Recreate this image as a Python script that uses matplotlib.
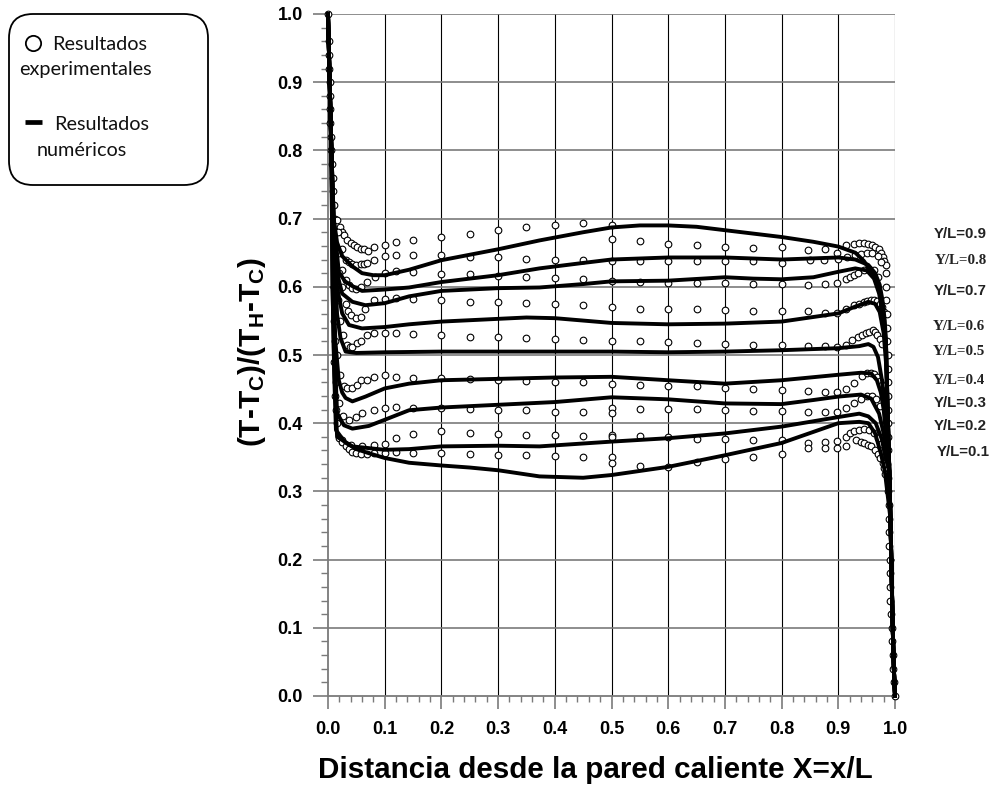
import matplotlib
matplotlib.use("Agg")
import matplotlib.pyplot as plt
from matplotlib.patches import FancyBboxPatch
from matplotlib.ticker import MultipleLocator

plt.rcParams['mathtext.fontset'] = 'custom'
plt.rcParams['mathtext.rm'] = 'Liberation Sans:bold'
plt.rcParams['mathtext.bf'] = 'Liberation Sans:bold'
plt.rcParams['mathtext.it'] = 'Liberation Sans:bold'

# ---------------- data ----------------
labels = ["Y/L=0.9", "Y/L=0.8", "Y/L=0.7", "Y/L=0.6", "Y/L=0.5",
          "Y/L=0.4", "Y/L=0.3", "Y/L=0.2", "Y/L=0.1"]

# numerical results: common start at hot wall, per-curve body, common tail at cold wall
num_head_x = [0.0, 0.003, 0.006]
num_head_y = [1.0, 0.90, 0.80]
num_tail_x = [0.984, 0.987, 0.990, 0.992, 0.994, 0.996, 0.998, 1.0]
num_tail_y = [0.52, 0.42, 0.33, 0.26, 0.18, 0.10, 0.04, 0.0]

num09_x = [0.010, 0.016, 0.025, 0.043, 0.06, 0.08, 0.1, 0.143, 0.2, 0.3, 0.373, 0.45, 0.5, 0.55, 0.6, 0.65, 0.7, 0.75, 0.8, 0.856, 0.9, 0.93, 0.945, 0.96, 0.97, 0.976, 0.98]
num09_y = [0.70, 0.665, 0.645, 0.630, 0.620, 0.617, 0.617, 0.625, 0.639, 0.655, 0.668, 0.680, 0.687, 0.690, 0.690, 0.688, 0.683, 0.678, 0.673, 0.666, 0.659, 0.650, 0.638, 0.620, 0.600, 0.580, 0.555]
num08_x = [0.010, 0.019, 0.03, 0.043, 0.06, 0.1, 0.143, 0.2, 0.3, 0.373, 0.45, 0.5, 0.6, 0.7, 0.8, 0.9, 0.93, 0.953, 0.965, 0.973, 0.978, 0.982]
num08_y = [0.70, 0.622, 0.608, 0.601, 0.594, 0.596, 0.599, 0.607, 0.617, 0.627, 0.635, 0.640, 0.643, 0.643, 0.640, 0.643, 0.640, 0.632, 0.620, 0.603, 0.580, 0.550]
num07_x = [0.010, 0.016, 0.025, 0.043, 0.066, 0.1, 0.143, 0.2, 0.3, 0.373, 0.45, 0.5, 0.6, 0.7, 0.75, 0.8, 0.856, 0.9, 0.93, 0.95, 0.963, 0.972, 0.978, 0.982]
num07_y = [0.70, 0.620, 0.590, 0.578, 0.573, 0.576, 0.586, 0.594, 0.598, 0.599, 0.604, 0.608, 0.609, 0.614, 0.612, 0.611, 0.614, 0.622, 0.627, 0.624, 0.612, 0.590, 0.560, 0.530]
num06_x = [0.010, 0.016, 0.025, 0.037, 0.06, 0.1, 0.143, 0.2, 0.3, 0.35, 0.4, 0.5, 0.6, 0.7, 0.8, 0.9, 0.93, 0.953, 0.965, 0.973, 0.98, 0.984]
num06_y = [0.68, 0.600, 0.561, 0.544, 0.539, 0.541, 0.545, 0.549, 0.553, 0.555, 0.554, 0.547, 0.545, 0.546, 0.549, 0.561, 0.571, 0.578, 0.575, 0.563, 0.532, 0.490]
num05_x = [0.010, 0.016, 0.022, 0.031, 0.05, 0.1, 0.2, 0.3, 0.4, 0.5, 0.6, 0.7, 0.8, 0.9, 0.937, 0.953, 0.962, 0.97, 0.977, 0.982]
num05_y = [0.66, 0.560, 0.525, 0.505, 0.503, 0.504, 0.505, 0.505, 0.505, 0.505, 0.504, 0.505, 0.507, 0.510, 0.513, 0.516, 0.512, 0.497, 0.463, 0.430]
num04_x = [0.009, 0.013, 0.019, 0.025, 0.031, 0.043, 0.066, 0.1, 0.143, 0.2, 0.3, 0.4, 0.5, 0.6, 0.7, 0.8, 0.9, 0.94, 0.958, 0.968, 0.975, 0.98]
num04_y = [0.62, 0.520, 0.463, 0.445, 0.437, 0.432, 0.439, 0.451, 0.458, 0.463, 0.465, 0.467, 0.468, 0.463, 0.458, 0.463, 0.471, 0.474, 0.473, 0.463, 0.445, 0.420]
num03_x = [0.009, 0.012, 0.016, 0.028, 0.043, 0.072, 0.1, 0.143, 0.2, 0.3, 0.4, 0.5, 0.6, 0.7, 0.8, 0.856, 0.9, 0.94, 0.958, 0.972, 0.98]
num03_y = [0.60, 0.500, 0.415, 0.397, 0.392, 0.396, 0.405, 0.419, 0.423, 0.427, 0.431, 0.438, 0.435, 0.429, 0.428, 0.434, 0.439, 0.442, 0.436, 0.414, 0.385]
num02_x = [0.008, 0.011, 0.016, 0.043, 0.1, 0.143, 0.2, 0.3, 0.373, 0.5, 0.6, 0.7, 0.8, 0.9, 0.937, 0.953, 0.966, 0.977, 0.983]
num02_y = [0.60, 0.480, 0.380, 0.366, 0.361, 0.362, 0.366, 0.367, 0.366, 0.373, 0.378, 0.385, 0.395, 0.409, 0.414, 0.410, 0.400, 0.376, 0.350]
num01_x = [0.008, 0.011, 0.014, 0.03, 0.05, 0.072, 0.1, 0.143, 0.2, 0.25, 0.3, 0.373, 0.45, 0.5, 0.6, 0.7, 0.8, 0.9, 0.937, 0.953, 0.965, 0.975, 0.982]
num01_y = [0.60, 0.470, 0.390, 0.372, 0.362, 0.356, 0.349, 0.342, 0.338, 0.335, 0.331, 0.322, 0.320, 0.324, 0.336, 0.353, 0.371, 0.400, 0.402, 0.400, 0.385, 0.356, 0.330]

# experimental results: shared points along both walls, per-series interior points
exp_wall_left_x = [0.0, 0.001, 0.002, 0.002, 0.003, 0.003, 0.004, 0.004, 0.005, 0.006, 0.007, 0.008, 0.009, 0.010, 0.012]
exp_wall_left_y = [1.0, 0.96, 0.94, 0.92, 0.90, 0.88, 0.86, 0.84, 0.82, 0.80, 0.78, 0.76, 0.74, 0.72, 0.70]
exp_wall_right_x = [0.984, 0.985, 0.985, 0.986, 0.986, 0.986, 0.987, 0.987, 0.987, 0.988, 0.988, 0.988, 0.988, 0.987, 0.986, 0.987, 0.988, 0.989, 0.989, 0.990, 0.990, 0.991, 0.991, 0.992, 0.992, 0.993, 0.994, 0.995, 0.996, 0.997, 0.998, 1.0]
exp_wall_right_y = [0.62, 0.60, 0.58, 0.56, 0.54, 0.52, 0.50, 0.48, 0.46, 0.44, 0.42, 0.40, 0.38, 0.36, 0.34, 0.32, 0.30, 0.28, 0.26, 0.24, 0.22, 0.20, 0.18, 0.16, 0.14, 0.12, 0.10, 0.08, 0.06, 0.04, 0.02, 0.0]

exp09_x = [0.016, 0.022, 0.025, 0.028, 0.034, 0.040, 0.046, 0.052, 0.058, 0.063, 0.071, 0.081, 0.1, 0.12, 0.15, 0.2, 0.25, 0.3, 0.35, 0.4, 0.45, 0.5, 0.5, 0.55, 0.6, 0.65, 0.7, 0.75, 0.8, 0.847, 0.877, 0.897, 0.913, 0.928, 0.937, 0.945, 0.953, 0.959, 0.965, 0.971, 0.975, 0.978, 0.981, 0.984]
exp09_y = [0.698, 0.688, 0.681, 0.676, 0.669, 0.664, 0.661, 0.659, 0.656, 0.655, 0.653, 0.659, 0.662, 0.665, 0.668, 0.673, 0.678, 0.684, 0.688, 0.690, 0.693, 0.691, 0.670, 0.667, 0.663, 0.661, 0.659, 0.657, 0.658, 0.654, 0.655, 0.649, 0.661, 0.663, 0.664, 0.664, 0.663, 0.661, 0.659, 0.655, 0.650, 0.644, 0.638, 0.632]
exp08_x = [0.018, 0.024, 0.031, 0.037, 0.043, 0.050, 0.058, 0.063, 0.069, 0.081, 0.1, 0.12, 0.15, 0.2, 0.25, 0.3, 0.35, 0.4, 0.45, 0.5, 0.55, 0.6, 0.65, 0.7, 0.75, 0.8, 0.85, 0.875, 0.9, 0.915, 0.93, 0.94, 0.95, 0.96, 0.97, 0.976]
exp08_y = [0.680, 0.655, 0.640, 0.636, 0.633, 0.632, 0.633, 0.634, 0.635, 0.639, 0.645, 0.647, 0.646, 0.646, 0.643, 0.643, 0.641, 0.639, 0.639, 0.638, 0.638, 0.638, 0.638, 0.638, 0.638, 0.635, 0.640, 0.640, 0.641, 0.643, 0.646, 0.648, 0.650, 0.650, 0.645, 0.636]
exp07_x = [0.020, 0.025, 0.031, 0.037, 0.043, 0.050, 0.058, 0.069, 0.083, 0.1, 0.12, 0.15, 0.2, 0.25, 0.3, 0.35, 0.4, 0.45, 0.5, 0.55, 0.6, 0.65, 0.7, 0.75, 0.8, 0.847, 0.877, 0.897, 0.913, 0.920, 0.927, 0.935, 0.945, 0.955, 0.963, 0.970]
exp07_y = [0.650, 0.625, 0.610, 0.603, 0.598, 0.597, 0.599, 0.607, 0.614, 0.620, 0.623, 0.621, 0.619, 0.619, 0.616, 0.615, 0.613, 0.612, 0.609, 0.607, 0.605, 0.605, 0.605, 0.604, 0.604, 0.603, 0.604, 0.605, 0.611, 0.615, 0.617, 0.620, 0.624, 0.626, 0.624, 0.615]
exp06_x = [0.020, 0.025, 0.031, 0.036, 0.040, 0.049, 0.058, 0.066, 0.081, 0.1, 0.12, 0.15, 0.2, 0.25, 0.3, 0.35, 0.4, 0.45, 0.5, 0.55, 0.6, 0.65, 0.7, 0.75, 0.8, 0.847, 0.877, 0.897, 0.913, 0.928, 0.937, 0.945, 0.951, 0.957, 0.963, 0.969, 0.973, 0.977, 0.980]
exp06_y = [0.620, 0.600, 0.575, 0.565, 0.559, 0.554, 0.555, 0.568, 0.581, 0.582, 0.584, 0.582, 0.580, 0.578, 0.577, 0.576, 0.575, 0.573, 0.571, 0.568, 0.567, 0.567, 0.566, 0.565, 0.564, 0.564, 0.562, 0.561, 0.567, 0.573, 0.575, 0.578, 0.579, 0.580, 0.580, 0.579, 0.575, 0.570, 0.563]
exp05_x = [0.012, 0.014, 0.016, 0.018, 0.022, 0.027, 0.033, 0.038, 0.043, 0.052, 0.058, 0.069, 0.081, 0.1, 0.12, 0.15, 0.2, 0.25, 0.3, 0.35, 0.4, 0.45, 0.5, 0.55, 0.6, 0.65, 0.7, 0.75, 0.8, 0.847, 0.877, 0.897, 0.913, 0.925, 0.934, 0.942, 0.949, 0.955, 0.961, 0.965, 0.969, 0.973, 0.977]
exp05_y = [0.660, 0.620, 0.600, 0.580, 0.550, 0.530, 0.515, 0.511, 0.512, 0.517, 0.521, 0.529, 0.532, 0.532, 0.532, 0.531, 0.529, 0.527, 0.527, 0.525, 0.523, 0.522, 0.521, 0.520, 0.519, 0.517, 0.516, 0.515, 0.515, 0.513, 0.513, 0.512, 0.515, 0.522, 0.526, 0.529, 0.532, 0.534, 0.536, 0.534, 0.529, 0.523, 0.516]
exp04_x = [0.011, 0.013, 0.016, 0.022, 0.028, 0.034, 0.043, 0.052, 0.058, 0.069, 0.081, 0.1, 0.12, 0.15, 0.2, 0.25, 0.3, 0.35, 0.4, 0.45, 0.5, 0.55, 0.6, 0.65, 0.7, 0.75, 0.8, 0.847, 0.877, 0.897, 0.913, 0.928, 0.942, 0.951, 0.957, 0.963, 0.969, 0.973, 0.977]
exp04_y = [0.600, 0.550, 0.500, 0.470, 0.455, 0.451, 0.451, 0.456, 0.463, 0.464, 0.468, 0.470, 0.468, 0.467, 0.466, 0.465, 0.463, 0.462, 0.461, 0.460, 0.458, 0.456, 0.455, 0.454, 0.452, 0.450, 0.449, 0.4475, 0.446, 0.446, 0.450, 0.459, 0.469, 0.473, 0.474, 0.472, 0.468, 0.462, 0.456]
exp03_x = [0.010, 0.012, 0.014, 0.020, 0.027, 0.037, 0.049, 0.060, 0.081, 0.1, 0.12, 0.15, 0.2, 0.25, 0.3, 0.35, 0.4, 0.45, 0.5, 0.5, 0.55, 0.6, 0.65, 0.7, 0.75, 0.8, 0.847, 0.877, 0.897, 0.913, 0.928, 0.940, 0.950, 0.960, 0.967, 0.973]
exp03_y = [0.600, 0.520, 0.460, 0.430, 0.410, 0.405, 0.409, 0.415, 0.419, 0.423, 0.424, 0.423, 0.423, 0.421, 0.420, 0.419, 0.417, 0.416, 0.422, 0.415, 0.421, 0.421, 0.421, 0.420, 0.418, 0.418, 0.417, 0.417, 0.417, 0.423, 0.430, 0.436, 0.440, 0.440, 0.435, 0.425]
exp02_x = [0.025, 0.040, 0.060, 0.081, 0.1, 0.12, 0.15, 0.2, 0.25, 0.3, 0.35, 0.4, 0.45, 0.5, 0.5, 0.55, 0.6, 0.65, 0.7, 0.75, 0.8, 0.847, 0.877, 0.897, 0.913, 0.920, 0.928, 0.937, 0.945, 0.955, 0.963, 0.970, 0.975]
exp02_y = [0.375, 0.368, 0.366, 0.368, 0.370, 0.379, 0.384, 0.388, 0.385, 0.384, 0.382, 0.382, 0.381, 0.383, 0.380, 0.381, 0.380, 0.377, 0.377, 0.376, 0.376, 0.371, 0.373, 0.374, 0.380, 0.385, 0.388, 0.390, 0.391, 0.390, 0.385, 0.378, 0.370]
exp01_x = [0.010, 0.011, 0.012, 0.014, 0.016, 0.019, 0.025, 0.031, 0.037, 0.043, 0.050, 0.058, 0.069, 0.081, 0.1, 0.12, 0.15, 0.2, 0.25, 0.3, 0.35, 0.4, 0.45, 0.5, 0.5, 0.55, 0.6, 0.65, 0.7, 0.75, 0.8, 0.847, 0.877, 0.897, 0.913, 0.931, 0.940, 0.946, 0.952, 0.958, 0.964, 0.970, 0.974, 0.978, 0.980, 0.982]
exp01_y = [0.550, 0.490, 0.440, 0.420, 0.400, 0.378, 0.372, 0.366, 0.362, 0.358, 0.356, 0.355, 0.355, 0.357, 0.357, 0.358, 0.357, 0.356, 0.355, 0.354, 0.353, 0.352, 0.351, 0.350, 0.341, 0.337, 0.336, 0.343, 0.347, 0.350, 0.355, 0.363, 0.363, 0.363, 0.367, 0.375, 0.373, 0.371, 0.368, 0.366, 0.361, 0.355, 0.349, 0.341, 0.334, 0.326]

num_x = [num09_x, num08_x, num07_x, num06_x, num05_x, num04_x, num03_x, num02_x, num01_x]
num_y = [num09_y, num08_y, num07_y, num06_y, num05_y, num04_y, num03_y, num02_y, num01_y]
exp_x = [exp09_x, exp08_x, exp07_x, exp06_x, exp05_x, exp04_x, exp03_x, exp02_x, exp01_x]
exp_y = [exp09_y, exp08_y, exp07_y, exp06_y, exp05_y, exp04_y, exp03_y, exp02_y, exp01_y]

xticks = [0.0, 0.1, 0.2, 0.3, 0.4, 0.5, 0.6, 0.7, 0.8, 0.9, 1.0]
yticks = [0.0, 0.1, 0.2, 0.3, 0.4, 0.5, 0.6, 0.7, 0.8, 0.9, 1.0]

# ---------------- figure ----------------
W, H = 993, 793
fig = plt.figure(figsize=(W / 100, H / 100), dpi=100)
ax = fig.add_axes([328 / W, 1 - 696 / H, 567 / W, 682 / H])
ax.set_xlim(0, 1.0)
ax.set_ylim(0, 1.0)

GRAY = '#7a7a7a'
for xv in xticks[1:]:
    ax.axvline(xv, color='black', lw=0.8, zorder=1)
for yv in yticks[1:]:
    ax.axhline(yv, color=GRAY, lw=1.2, zorder=1)

mk = dict(marker='o', ms=4.8, mfc='white', mec='black', mew=0.8, ls='none', zorder=3, clip_on=False)
ax.plot(exp_wall_left_x, exp_wall_left_y, **mk)
for xs, ys in zip(exp_x, exp_y):
    ax.plot(xs, ys, **mk)
ax.plot(exp_wall_right_x, exp_wall_right_y, **mk)

for xs, ys in zip(num_x, num_y):
    tx = [x for x, y in zip(num_tail_x, num_tail_y) if y < ys[-1]]
    ty = [y for y in num_tail_y if y < ys[-1]]
    ax.plot(num_head_x + xs + tx, num_head_y + ys + ty, color='black', lw=2.8,
            solid_joinstyle='round', zorder=4, clip_on=False)

for s in ['top', 'right']:
    ax.spines[s].set_visible(False)
for s in ['left', 'bottom']:
    ax.spines[s].set_color(GRAY)
    ax.spines[s].set_linewidth(1.3)

ax.set_xticks(xticks)
ax.set_yticks(yticks)
ax.xaxis.set_minor_locator(MultipleLocator(0.02))
ax.yaxis.set_minor_locator(MultipleLocator(0.02))
ax.set_xticklabels([f"{v:.1f}" for v in xticks])
ax.set_yticklabels([f"{v:.1f}" for v in yticks])
ax.tick_params(axis='x', which='major', length=9.5, width=1.2, color=GRAY, pad=8.5)
ax.tick_params(axis='y', which='major', length=11, width=1.2, color=GRAY, pad=7)
ax.tick_params(axis='x', which='minor', length=4.3, width=1.0, color=GRAY)
ax.tick_params(axis='y', which='minor', length=5, width=1.0, color=GRAY)
for lab in ax.get_xticklabels() + ax.get_yticklabels():
    lab.set_fontfamily('Liberation Sans')
    lab.set_fontweight('bold')
    lab.set_fontsize(13)

ax.text(0.471, -0.1085, "Distancia desde la pared caliente X=x/L", transform=ax.transAxes,
        ha='center', va='center', fontsize=21.3, fontweight='bold', family='Liberation Sans')
ax.text(-0.134, 0.504, r"(T-T$_\mathregular{C}$)/(T$_\mathregular{H}$-T$_\mathregular{C}$)",
        transform=ax.transAxes, ha='center', va='center', rotation=90,
        fontsize=21.5, fontweight='bold', family='Liberation Sans')

# series labels to the right of the plot
lab_py = [234, 261, 291, 326, 351, 380, 403, 426, 452]
lab_px = [934, 935, 934, 933, 933, 933, 934, 934, 937]
lab_fam = ['Liberation Sans', 'Liberation Serif', 'Liberation Sans', 'Liberation Serif',
           'Liberation Serif', 'Liberation Serif', 'Liberation Sans', 'Liberation Sans', 'Liberation Sans']
for t, px, py, fam in zip(labels, lab_px, lab_py, lab_fam):
    fig.text(px / W, 1 - py / H, t, ha='left', va='center', fontsize=10.8,
             fontweight='bold', family=fam, color='#222222')

# legend box
lax = fig.add_axes([0, 1 - 200 / H, 220 / W, 200 / H])
lax.set_xlim(0, 220)
lax.set_ylim(200, 0)
lax.axis('off')
lax.add_patch(FancyBboxPatch((9, 14), 199, 171, boxstyle='round,pad=0,rounding_size=24',
                             fc='white', ec='black', lw=1.3))
lax.plot([33], [43], marker='o', ms=11, mfc='white', mec='black', mew=1.3)
lax.plot([25, 42], [122, 122], color='black', lw=3.4, solid_capstyle='butt')
lfont = dict(family='Lato', fontsize=14.3, color='#111111', va='center', ha='left')
lax.text(52, 45, "Resultados", **lfont)
lax.text(19, 69, "experimentales", **lfont)
lax.text(54, 124, "Resultados", **lfont)
lax.text(37, 150, "numéricos", **lfont)

fig.savefig("out.png", dpi=100)
